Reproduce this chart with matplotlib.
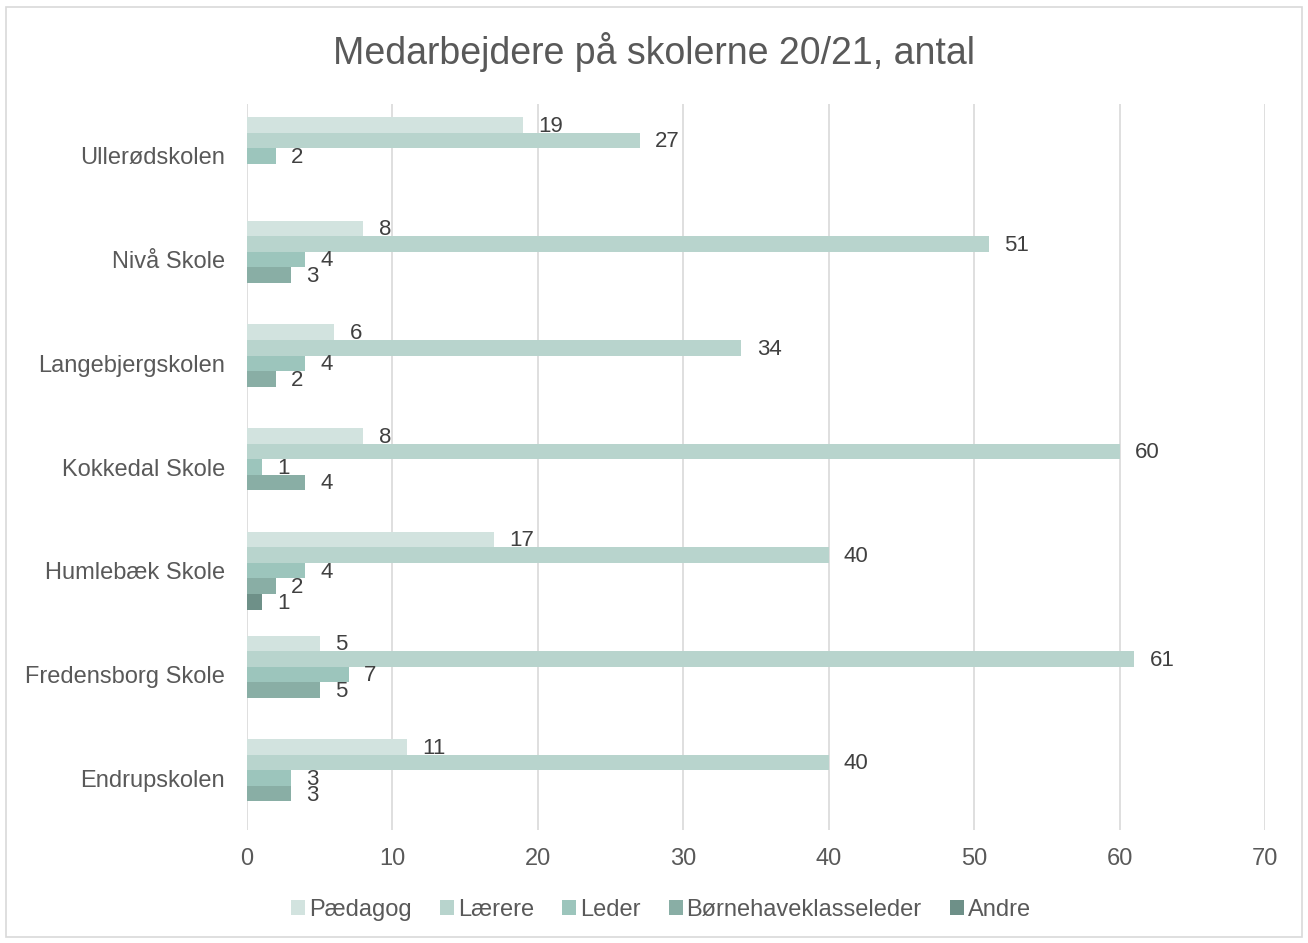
import numpy as np
import matplotlib.pyplot as plt
from matplotlib.patches import Rectangle

plt.rcParams['font.family'] = ['Liberation Sans', 'DejaVu Sans']

# ─── Data ─────────────────────────────────────────────────────────────────────
schools = ["Endrupskolen", "Fredensborg Skole", "Humlebæk Skole", "Kokkedal Skole",
           "Langebjergskolen", "Nivå Skole", "Ullerødskolen"]
series = ["Pædagog", "Lærere", "Leder", "Børnehaveklasseleder", "Andre"]
paedagog = [11, 5, 17, 8, 6, 8, 19]
laerere = [40, 61, 40, 60, 34, 51, 27]
leder = [3, 7, 4, 1, 4, 4, 2]
bhkl = [3, 5, 2, 4, 2, 3, 0]
andre = [0, 0, 1, 0, 0, 0, 0]
colors = ["#D2E3DF", "#B8D4CD", "#9CC5BC", "#89AEA5", "#6E9088"]
xticks = [0, 10, 20, 30, 40, 50, 60, 70]

values = [paedagog, laerere, leder, bhkl, andre]

W, H = 1308, 943
fig = plt.figure(figsize=(W / 100, H / 100), dpi=100)
ax = fig.add_axes([247 / W, 1 - 830 / H, (1265 - 247) / W, (830 - 104) / H])

# outer chart border
fig.patches.append(Rectangle((6 / W, 6 / H), 1296 / W, 930 / H,
                             transform=fig.transFigure, fill=False,
                             edgecolor="#D9D9D9", linewidth=1.2))

y = np.arange(len(schools))
h = 0.15
for i, (name, vals, col) in enumerate(zip(series, values, colors)):
    pos = y + (2 - i) * h
    ax.barh(pos, vals, height=h, color=col, label=name, zorder=3)
    for p, v in zip(pos, vals):
        if v > 0:  # Excel hides zero labels here
            ax.annotate(str(v), (v, p), xytext=(11, -1), textcoords="offset points",
                        ha="left", va="center", fontsize=16, color="#404040")

ax.set_xlim(0, 70)
ax.set_ylim(-0.5, len(schools) - 0.5)
ax.set_xticks(xticks)
ax.set_yticks(y)
ax.set_yticklabels(schools)
ax.tick_params(axis="both", length=0, labelsize=17, labelcolor="#595959")
ax.tick_params(axis="x", pad=13)
ax.tick_params(axis="y", pad=16)
ax.grid(axis="x", color="#D9D9D9", linewidth=1.2, zorder=0)
for s in ax.spines.values():
    s.set_visible(False)

fig.text(0.5, 1 - 52 / H, "Medarbejdere på skolerne 20/21, antal", ha="center", va="center",
         fontsize=27, color="#595959")

handles, labels = ax.get_legend_handles_labels()
fig.legend(handles, labels, loc="center", bbox_to_anchor=(661 / W, 1 - 910 / H), ncol=5,
           frameon=False, fontsize=17, labelcolor="#595959", handlelength=0.6,
           handleheight=0.6, handletextpad=0.15, columnspacing=1.2)

fig.savefig("out.png", dpi=100)
